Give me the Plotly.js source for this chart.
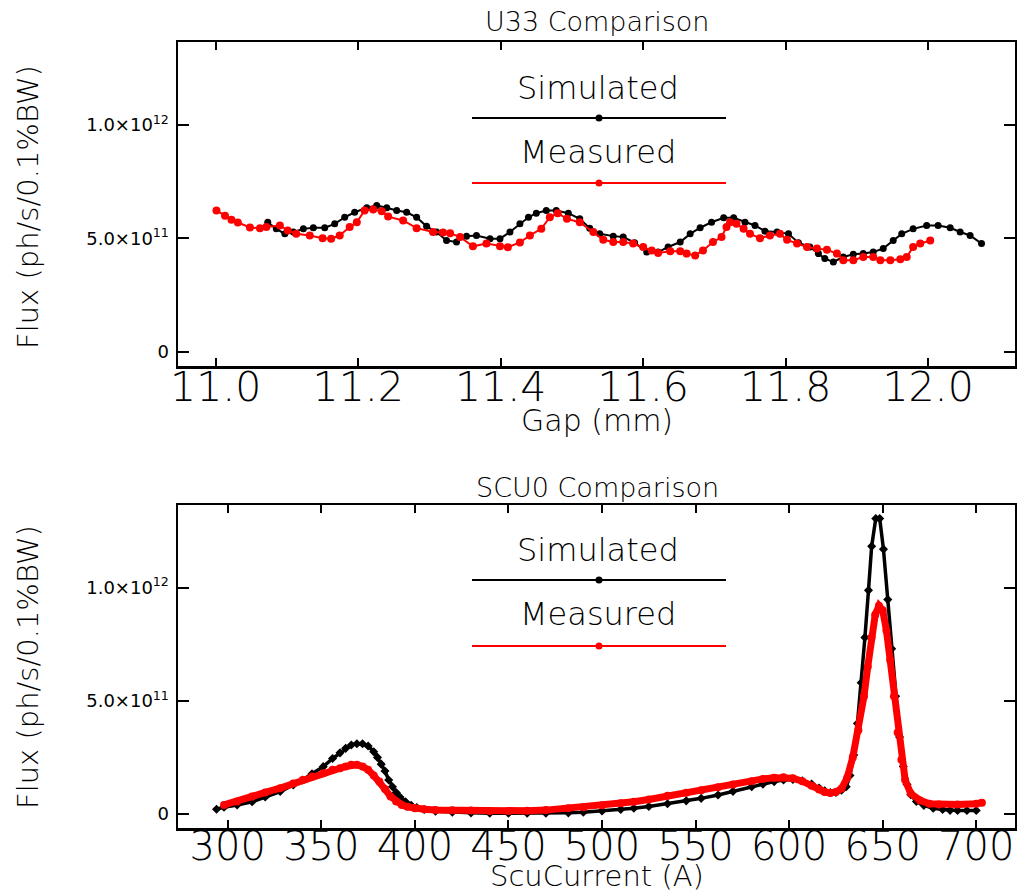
<!DOCTYPE html>
<html>
<head>
<meta charset="utf-8">
<script src="https://cdn.plot.ly/plotly-3.0.1.min.js"></script>
<style>html,body{margin:0;padding:0;background:#fff;}#chart{width:1017px;height:896px;}</style>
</head>
<body>
<div id="chart"></div>
<script>
// ---------- U33 (top) ----------
const u33GapSim = [11.073,11.085,11.097,11.109,11.123,11.137,11.153,11.167,11.181,11.195,11.212,11.226,11.240,11.254,11.268,11.282,11.296,11.310,11.324,11.338,11.352,11.366,11.385,11.399,11.413,11.427,11.439,11.450,11.464,11.478,11.495,11.511,11.525,11.539,11.558,11.572,11.588,11.605,11.621,11.635,11.652,11.666,11.680,11.696,11.713,11.727,11.743,11.757,11.771,11.788,11.804,11.818,11.834,11.846,11.855,11.867,11.881,11.895,11.909,11.923,11.937,11.951,11.963,11.979,11.998,12.014,12.031,12.045,12.059,12.075];
const u33FluxSim = [5.71e11,5.42e11,5.20e11,5.28e11,5.42e11,5.47e11,5.47e11,5.64e11,5.93e11,6.15e11,6.35e11,6.45e11,6.35e11,6.23e11,6.15e11,5.93e11,5.53e11,5.28e11,4.91e11,4.84e11,5.10e11,5.13e11,4.99e11,4.99e11,5.28e11,5.64e11,5.93e11,6.11e11,6.23e11,6.23e11,6.11e11,5.86e11,5.45e11,5.20e11,5.10e11,5.06e11,4.81e11,4.40e11,4.40e11,4.62e11,4.84e11,5.20e11,5.47e11,5.71e11,5.91e11,5.91e11,5.71e11,5.57e11,5.32e11,5.28e11,5.20e11,4.81e11,4.62e11,4.33e11,4.11e11,3.96e11,4.18e11,4.30e11,4.33e11,4.40e11,4.55e11,4.91e11,5.20e11,5.42e11,5.57e11,5.57e11,5.47e11,5.28e11,5.13e11,4.77e11];
const u33GapMeas = [11.001,11.013,11.022,11.031,11.048,11.062,11.071,11.090,11.101,11.113,11.132,11.150,11.162,11.174,11.188,11.198,11.209,11.221,11.233,11.242,11.263,11.282,11.305,11.319,11.329,11.343,11.361,11.380,11.399,11.410,11.427,11.441,11.457,11.469,11.480,11.493,11.511,11.530,11.544,11.558,11.572,11.586,11.600,11.612,11.621,11.638,11.652,11.661,11.673,11.684,11.698,11.710,11.717,11.722,11.731,11.741,11.750,11.764,11.778,11.792,11.802,11.816,11.830,11.844,11.858,11.872,11.881,11.895,11.909,11.923,11.933,11.947,11.961,11.970,11.979,11.989,12.003];
const u33FluxMeas = [6.23e11,6.00e11,5.82e11,5.70e11,5.48e11,5.45e11,5.50e11,5.57e11,5.35e11,5.20e11,5.13e11,5.01e11,4.99e11,5.13e11,5.50e11,5.71e11,6.23e11,6.27e11,6.20e11,5.96e11,5.79e11,5.45e11,5.28e11,5.26e11,5.23e11,5.06e11,4.65e11,4.77e11,4.65e11,4.61e11,4.82e11,5.13e11,5.42e11,5.93e11,6.11e11,5.86e11,5.71e11,5.28e11,4.94e11,4.84e11,4.84e11,4.77e11,4.62e11,4.47e11,4.36e11,4.43e11,4.43e11,4.33e11,4.25e11,4.47e11,4.84e11,5.06e11,5.50e11,5.71e11,5.64e11,5.42e11,5.20e11,5.01e11,5.13e11,5.20e11,4.94e11,4.77e11,4.62e11,4.55e11,4.50e11,4.33e11,4.04e11,4.04e11,4.18e11,4.18e11,4.04e11,4.04e11,4.08e11,4.18e11,4.62e11,4.77e11,4.91e11];

// ---------- SCU0 (bottom) ----------
const scuCurSim = [294,298,305,313,320,328,335,340,345,351,356,360,363,366,369,372,375,378,380,382,384,386,388,390,392,395,398,401,405,411,420,430,440,450,460,470,482,490,500,510,517,525,535,545,553,562,570,580,586,592,597,602,607,612,616,619,622,625,628,630.5,632.5,634.5,636.5,638.5,640.5,642.4,644.1,646.3,648.4,650.4,652.7,654.8,656.9,659,661,663,665,668,672,677,682,686,690,695,700];
const scuFluxSim = [0.21e11,0.30e11,0.40e11,0.54e11,0.75e11,0.99e11,1.28e11,1.50e11,1.78e11,2.09e11,2.45e11,2.70e11,2.90e11,3.05e11,3.10e11,3.10e11,3.00e11,2.75e11,2.50e11,2.20e11,1.90e11,1.50e11,1.20e11,0.95e11,0.75e11,0.54e11,0.38e11,0.28e11,0.20e11,0.12e11,0.08e11,0.05e11,0.03e11,0.03e11,0.03e11,0.03e11,0.05e11,0.08e11,0.13e11,0.20e11,0.25e11,0.33e11,0.45e11,0.58e11,0.69e11,0.84e11,1.00e11,1.20e11,1.32e11,1.43e11,1.50e11,1.52e11,1.47e11,1.32e11,1.15e11,1.02e11,0.95e11,0.95e11,1.05e11,1.20e11,1.70e11,2.60e11,4.00e11,5.80e11,7.80e11,9.88e11,11.83e11,13.05e11,13.05e11,11.70e11,9.47e11,7.30e11,5.20e11,3.40e11,2.10e11,1.30e11,0.85e11,0.55e11,0.38e11,0.25e11,0.20e11,0.16e11,0.15e11,0.15e11,0.15e11];
const scuCurMeas = [298,305,313,320,328,335,340,345,351,356,360,363,366,369,372,375,378,381,384,387,390,393,396,400,405,411,420,430,440,450,460,470,482,490,500,510,517,525,535,545,553,562,570,580,586,592,597,602,607,612,616,619,622,625,628,631,634,637,640,642,644,646,648,650,652,654,656,658,660,662,665,670,675,680,690,700,703];
const scuFluxMeas = [0.40e11,0.55e11,0.77e11,0.95e11,1.14e11,1.35e11,1.50e11,1.65e11,1.80e11,1.95e11,2.02e11,2.10e11,2.17e11,2.17e11,2.10e11,1.95e11,1.70e11,1.43e11,1.10e11,0.77e11,0.55e11,0.40e11,0.32e11,0.25e11,0.21e11,0.18e11,0.16e11,0.15e11,0.13e11,0.13e11,0.14e11,0.17e11,0.25e11,0.30e11,0.38e11,0.47e11,0.54e11,0.64e11,0.80e11,0.94e11,1.05e11,1.18e11,1.30e11,1.45e11,1.55e11,1.60e11,1.62e11,1.58e11,1.45e11,1.25e11,1.08e11,0.97e11,0.93e11,0.97e11,1.12e11,1.60e11,2.50e11,3.70e11,5.20e11,6.50e11,7.80e11,8.80e11,9.20e11,9.00e11,8.10e11,6.80e11,5.20e11,3.60e11,2.40e11,1.50e11,0.90e11,0.60e11,0.45e11,0.42e11,0.42e11,0.45e11,0.50e11];

// ---------- ticks / labels ----------
const u33XTicks = [11.0, 11.2, 11.4, 11.6, 11.8, 12.0];
const u33XTickText = ['11.0', '11.2', '11.4', '11.6', '11.8', '12.0'];
const scuXTicks = [300, 350, 400, 450, 500, 550, 600, 650, 700];
const scuXTickText = ['300', '350', '400', '450', '500', '550', '600', '650', '700'];
const yTicks = [0, 5e11, 1e12];
const yTickText = ['0', '5.0\u00d710<sup>11</sup>', '1.0\u00d710<sup>12</sup>'];
const seriesNames = ['Simulated', 'Measured'];
const titles = ['U33 Comparison', 'SCU0 Comparison'];
const xTitles = ['Gap (mm)', 'ScuCurrent (A)'];
const yTitle = 'Flux (ph/s/0.1%BW)';

const W = 1017, H = 896;
const px = v => v / W;
const py = v => 1 - v / H;
const FONT = 'DejaVu Sans, sans-serif';
const WT = 200;

const traces = [
  {x: u33GapSim, y: u33FluxSim, xaxis: 'x', yaxis: 'y', mode: 'lines+markers', name: seriesNames[0],
   line: {color: '#000', width: 2}, marker: {color: '#000', size: 7, symbol: 'circle'}},
  {x: u33GapMeas, y: u33FluxMeas, xaxis: 'x', yaxis: 'y', mode: 'lines+markers', name: seriesNames[1],
   line: {color: '#ff0000', width: 2}, marker: {color: '#ff0000', size: 8, symbol: 'circle'}},
  {x: scuCurSim, y: scuFluxSim, xaxis: 'x2', yaxis: 'y2', mode: 'lines+markers', name: seriesNames[0],
   line: {color: '#000', width: 3.5}, marker: {color: '#000', size: 7, symbol: 'diamond'}},
  {x: scuCurMeas, y: scuFluxMeas, xaxis: 'x2', yaxis: 'y2', mode: 'lines+markers', name: seriesNames[1],
   line: {color: '#ff0000', width: 7}, marker: {color: '#ff0000', size: 8, symbol: 'circle'}}
];

const xCommon = {showline: true, linecolor: '#000', linewidth: 2.5, mirror: 'ticks', ticks: 'inside',
  ticklen: 8, tickwidth: 2, tickcolor: '#000', showgrid: false, zeroline: false,
  tickfont: {family: FONT, size: 41, color: '#000', weight: WT}, tickmode: 'array', ticklabelstandoff: -17};
const yCommon = {showline: true, linecolor: '#000', linewidth: 2.5, mirror: 'ticks', ticks: 'inside',
  ticklen: 11, tickwidth: 2, tickcolor: '#000', showgrid: false, zeroline: false,
  tickfont: {family: FONT, size: 18, color: '#000'}, tickmode: 'array', ticklabelstandoff: 3,
  tickvals: yTicks, ticktext: yTickText, range: [-6.2e10, 1.365e12]};

const xDom = [px(178), px(1015)];
const layout = {
  width: W, height: H, showlegend: false,
  paper_bgcolor: '#fff', plot_bgcolor: '#fff',
  margin: {l: 0, r: 0, t: 0, b: 0},
  font: {family: FONT, color: '#000'},
  xaxis: Object.assign({}, xCommon, {domain: xDom, anchor: 'y', range: [10.947, 12.122], tickvals: u33XTicks, ticktext: u33XTickText}),
  yaxis: Object.assign({}, yCommon, {domain: [py(366), py(42)], anchor: 'x'}),
  xaxis2: Object.assign({}, xCommon, {domain: xDom, anchor: 'y2', range: [273.4, 720.7], tickvals: scuXTicks, ticktext: scuXTickText,
    tickfont: {family: FONT, size: 40, color: '#000', weight: WT}, ticklabelstandoff: -19}),
  yaxis2: Object.assign({}, yCommon, {domain: [py(828), py(505)], anchor: 'x2'}),
  annotations: [],
  shapes: []
};

function ann(text, x, y, size, extra) {
  layout.annotations.push(Object.assign({text: text, x: px(x), y: py(y), xref: 'paper', yref: 'paper',
    showarrow: false, xanchor: 'center', yanchor: 'middle', font: {family: FONT, size: size, color: '#000', weight: WT}}, extra || {}));
}
// titles
ann(titles[0], 597, 22, 27);
ann(titles[1], 597, 488, 27);
// axis titles
ann(xTitles[0], 597, 420, 30);
ann(xTitles[1], 597, 895, 29, {yanchor: 'bottom'});
ann(yTitle, 28, 207, 29, {textangle: -90});
ann(yTitle, 28, 667, 29, {textangle: -90});

// legends (text above a line with a dot)
function legendEntry(label, color, textY, lineY) {
  ann(label, 598, textY, 32);
  layout.shapes.push({type: 'line', xref: 'paper', yref: 'paper', x0: px(472), x1: px(726), y0: py(lineY), y1: py(lineY),
    line: {color: color, width: 2}});
  layout.shapes.push({type: 'circle', xref: 'paper', yref: 'paper', xsizemode: 'pixel', ysizemode: 'pixel',
    xanchor: px(599), yanchor: py(lineY), x0: -3.5, x1: 3.5, y0: -3.5, y1: 3.5,
    fillcolor: color, line: {color: color, width: 0}});
}
legendEntry(seriesNames[0], '#000', 88, 118);
legendEntry(seriesNames[1], '#ff0000', 152, 183);
legendEntry(seriesNames[0], '#000', 550, 580);
legendEntry(seriesNames[1], '#ff0000', 614, 646);

Plotly.newPlot('chart', traces, layout, {staticPlot: true, displayModeBar: false});
</script>
</body>
</html>
